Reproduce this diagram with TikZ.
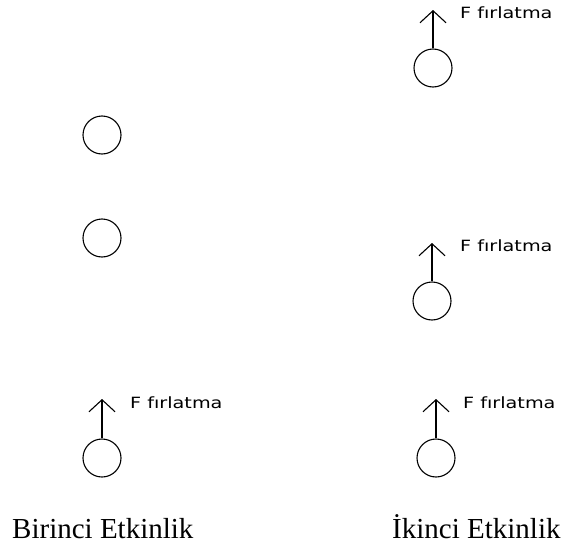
\documentclass[tikz,border=0pt]{standalone}
\usepackage{fontspec}
\setmainfont{Liberation Serif}
\newfontfamily\smallsans{DejaVu Sans}
\usetikzlibrary{arrows.meta}
\tikzset{
  ball/.style={draw, circle, minimum size=38pt, inner sep=0pt, line width=1.1pt},
  force/.style={draw, line width=1.1pt, -{Straight Barb[length=12pt, width=26pt, line width=1.1pt]}},
  flabel/.style={anchor=base west, inner sep=0pt, font=\smallsans\fontsize{15.5}{17}\selectfont},
  caption/.style={anchor=base west, inner sep=0pt, font=\fontsize{29}{32}\selectfont}
}
\newcommand{\fltext}{\scalebox{1.24}[1]{F fırlatma}}
\begin{document}
\begin{tikzpicture}[x=1pt, y=-1pt]
\useasboundingbox (0,0) rectangle (576,546);
% Birinci Etkinlik
\node[ball] (l1) at (102,135) {};
\node[ball] (l2) at (102,238) {};
\node[ball] (l3) at (102,458) {};
\coordinate (l3t) at (102,399);
\draw[force] (l3.north) -- (l3t);
\node[flabel] (l3f) at (130,408) {\fltext};
% Ikinci Etkinlik
\node[ball] (r1) at (433,68) {};
\coordinate (r1t) at (433,10);
\draw[force] (r1.north) -- (r1t);
\node[flabel] (r1f) at (460,18) {\fltext};
\node[ball] (r2) at (432,301) {};
\coordinate (r2t) at (432,243);
\draw[force] (r2.north) -- (r2t);
\node[flabel] (r2f) at (460,251) {\fltext};
\node[ball] (r3) at (436,458) {};
\coordinate (r3t) at (436,399);
\draw[force] (r3.north) -- (r3t);
\node[flabel] (r3f) at (463,408) {\fltext};
% captions
\node[caption] (c1) at (12,538) {Birinci Etkinlik};
\node[caption] (c2) at (392,538) {İkinci Etkinlik};
\end{tikzpicture}
\end{document}
